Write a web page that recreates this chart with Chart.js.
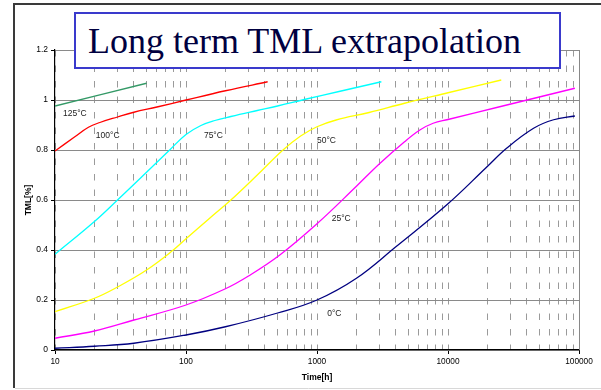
<!DOCTYPE html>
<html>
<head>
<meta charset="utf-8">
<script src="https://cdn.jsdelivr.net/npm/chart.js@4/dist/chart.umd.min.js"></script>
<style>
  html, body { margin: 0; padding: 0; background: #fff; }
  #chart { display: block; position: absolute; left: 0; top: 0; z-index: 1; }
  #titleBox {
    position: absolute; left: 74px; top: 12px; width: 483px; height: 53px;
    border: 2px solid #3a3acc; background: #fff; z-index: 2;
  }
  #titleBox span {
    position: absolute; left: 12px; top: 9px; white-space: nowrap;
    font-family: "Liberation Serif", "Times New Roman", serif; font-size: 36px; line-height: 36px;
    color: #000040;
  }
</style>
</head>
<body>
<canvas id="chart" width="601" height="390"></canvas>
<div id="titleBox"><span>Long term TML extrapolation</span></div>
<script>
// Decade marks of the time axis (hours) and the TML tick labels
const decades = [10, 100, 1000, 10000, 100000];
const tmlTicks = ['0', '0.2', '0.4', '0.6', '0.8', '1', '1.2'];

// 125 °C
const t125 = [10, 50];
const v125 = [0.976, 1.067];

// 100 °C
const t100 = [10, 14, 18, 22, 30, 40, 60, 100, 200, 420];
const v100 = [0.796, 0.851, 0.891, 0.910, 0.932, 0.951, 0.972, 1.000, 1.037, 1.073];

// 75 °C
const t75 = [10, 20, 30, 45, 75, 100, 130, 166, 220, 350, 500, 800, 1500, 3100];
const v75 = [0.383, 0.514, 0.600, 0.688, 0.800, 0.862, 0.898, 0.918, 0.934, 0.958, 0.976, 1.002, 1.035, 1.073];

// 50 °C
const t50 = [10, 20, 30, 50, 80, 100, 150, 220, 350, 550, 750, 1000, 1400, 2500, 4660, 10000, 25500];
const v50 = [0.153, 0.207, 0.252, 0.320, 0.400, 0.445, 0.525, 0.600, 0.700, 0.800, 0.856, 0.893, 0.920, 0.950, 0.987, 1.029, 1.080];

// 25 °C
const t25 = [10, 20, 40, 100, 200, 300, 520, 1000, 2000, 3000, 4660, 6100, 7700, 10000, 24800, 93000];
const v25 = [0.047, 0.076, 0.120, 0.180, 0.245, 0.296, 0.380, 0.505, 0.655, 0.745, 0.833, 0.880, 0.907, 0.922, 0.973, 1.047];

// 0 °C
const t0 = [10, 20, 40, 100, 200, 500, 1000, 2000, 4000, 10000, 19600, 28000, 45000, 64000, 93000];
const v0 = [0.007, 0.015, 0.027, 0.060, 0.093, 0.148, 0.200, 0.287, 0.413, 0.585, 0.730, 0.807, 0.887, 0.921, 0.936];

// Curve names and where each one is written (time, TML)
const curveNames = ['125°C', '100°C', '75°C', '50°C', '25°C', '0°C'];
const nameTimes  = [11.5, 20.5, 137, 1000, 1295, 1196];
const nameValues = [0.944, 0.856, 0.856, 0.836, 0.524, 0.144];

const pts = (ts, vs) => ts.map((t, i) => ({ x: t, y: vs[i] }));
const curve = (label, ts, vs, color) => ({
  label, data: pts(ts, vs), borderColor: color, borderWidth: 1.3,
  pointRadius: 0, fill: false, tension: 0.4
});

const sans = "'Liberation Sans', Arial, sans-serif";

// Slide frame: dark top and left edges, faint bottom edge
const framePlugin = {
  id: 'slideFrame',
  beforeDraw(chart) {
    const { ctx, width, height } = chart;
    ctx.save();
    ctx.strokeStyle = '#3a3a3a';
    ctx.lineWidth = 2;
    ctx.beginPath();
    ctx.moveTo(width + 2, 4);
    ctx.lineTo(14, 4);
    ctx.lineTo(14, height - 2);
    ctx.stroke();
    ctx.strokeStyle = '#d8d8d8';
    ctx.lineWidth = 1;
    ctx.beginPath();
    ctx.moveTo(15, height - 1.5);
    ctx.lineTo(width + 2, height - 1.5);
    ctx.stroke();
    ctx.restore();
  }
};

const curveNamesPlugin = {
  id: 'curveNames',
  beforeDatasetsDraw(chart) {
    const { ctx, chartArea } = chart;
    ctx.save();
    ctx.strokeStyle = '#888';
    ctx.lineWidth = 1;
    const x = Math.round(chartArea.right) + 0.5;
    ctx.beginPath();
    ctx.moveTo(x, chartArea.top);
    ctx.lineTo(x, chartArea.bottom);
    ctx.stroke();
    ctx.restore();
  },
  afterDatasetsDraw(chart) {
    const { ctx, scales } = chart;
    ctx.save();
    ctx.font = '8.5px ' + sans;
    ctx.fillStyle = '#222';
    ctx.textAlign = 'left';
    ctx.textBaseline = 'middle';
    curveNames.forEach((name, i) => {
      ctx.fillText(name, scales.x.getPixelForValue(nameTimes[i]), scales.y.getPixelForValue(nameValues[i]));
    });
    ctx.restore();
  }
};

new Chart(document.getElementById('chart'), {
  type: 'line',
  data: {
    datasets: [
      curve('125°C', t125, v125, '#339966'),
      curve('100°C', t100, v100, '#ff0000'),
      curve('75°C', t75, v75, '#00ffff'),
      curve('50°C', t50, v50, '#ffff00'),
      curve('25°C', t25, v25, '#ff00ff'),
      curve('0°C', t0, v0, '#000080')
    ]
  },
  options: {
    responsive: false,
    animation: false,
    events: [],
    layout: { padding: { left: 14, right: 22, top: 50, bottom: 0 } },
    plugins: { legend: { display: false }, tooltip: { enabled: false }, title: { display: false } },
    scales: {
      x: {
        type: 'logarithmic',
        min: decades[0],
        max: decades[decades.length - 1],
        afterBuildTicks(scale) {
          const ticks = [];
          decades.forEach((d, i) => {
            ticks.push({ value: d, major: true });
            if (i < decades.length - 1) {
              for (let k = 2; k <= 9; k++) ticks.push({ value: d * k, major: false });
            }
          });
          scale.ticks = ticks;
        },
        afterFit(scale) { scale.height = 40; },
        ticks: {
          autoSkip: false, maxRotation: 0, padding: 3,
          color: '#000', font: { family: sans, size: 8.3 },
          callback: (v) => decades.includes(v) ? String(v) : ''
        },
        grid: {
          color: '#9a9a9a', lineWidth: 1, tickLength: 4,
          tickColor: (c) => (c.tick && c.tick.major) ? '#000' : 'rgba(0,0,0,0)'
        },
        border: { color: '#000', width: 1.2, dash: [6.5, 9], dashOffset: 0 },
        title: {
          display: true, text: 'Time[h]', color: '#000',
          font: { family: sans, size: 8.5, weight: 'bold' },
          padding: { top: 0, bottom: 7 }
        }
      },
      y: {
        min: 0, max: 1.2,
        afterFit(scale) { scale.width = 41; },
        ticks: {
          stepSize: 0.2, padding: 3, color: '#000',
          font: { family: sans, size: 8.5 },
          callback: (v) => tmlTicks[Math.round(v / 0.2)]
        },
        grid: { color: '#8a8a8a', lineWidth: 1, tickLength: 4, tickColor: '#000' },
        border: { color: '#000', width: 1.2 },
        title: {
          display: true, text: 'TML[%]', color: '#000',
          font: { family: sans, size: 8.5, weight: 'bold' },
          padding: { top: 10, bottom: 0 }
        }
      }
    }
  },
  plugins: [framePlugin, curveNamesPlugin]
});
</script>
</body>
</html>
